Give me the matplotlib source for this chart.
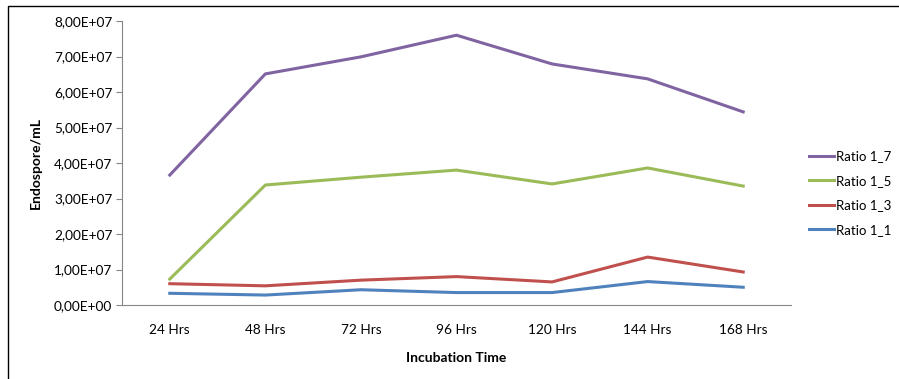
import matplotlib.pyplot as plt
from matplotlib.patches import Rectangle
from matplotlib.ticker import FuncFormatter

plt.rcParams['font.family'] = ['Lato', 'DejaVu Sans']

hours = ['24 Hrs', '48 Hrs', '72 Hrs', '96 Hrs', '120 Hrs', '144 Hrs', '168 Hrs']
ratio_1_7 = [3.66e7, 6.51e7, 6.99e7, 7.60e7, 6.79e7, 6.37e7, 5.44e7]
ratio_1_5 = [0.73e7, 3.38e7, 3.60e7, 3.80e7, 3.41e7, 3.86e7, 3.35e7]
ratio_1_3 = [0.60e7, 0.54e7, 0.70e7, 0.80e7, 0.65e7, 1.35e7, 0.93e7]
ratio_1_1 = [0.33e7, 0.28e7, 0.43e7, 0.35e7, 0.35e7, 0.66e7, 0.50e7]

fig = plt.figure(figsize=(8.99, 3.79), dpi=100)
ax = fig.add_axes([122 / 899, 1 - 305 / 379, (791 - 122) / 899, (305 - 21) / 379])

x = range(len(hours))
ax.plot(x, ratio_1_7, color='#8064a2', lw=2.2, label='Ratio 1_7')
ax.plot(x, ratio_1_5, color='#9bbb59', lw=2.2, label='Ratio 1_5')
ax.plot(x, ratio_1_3, color='#c0504d', lw=2.2, label='Ratio 1_3')
ax.plot(x, ratio_1_1, color='#4f81bd', lw=2.2, label='Ratio 1_1')

ax.set_xlim(-0.5, len(hours) - 0.5)
ax.set_ylim(0, 8e7)
ax.set_yticks([i * 1e7 for i in range(9)])
ax.yaxis.set_major_formatter(FuncFormatter(
    lambda v, p: ('%.2E' % v).replace('.', ',')))
ax.set_xticks(list(x))
ax.set_xticklabels(hours)
ax.tick_params(axis='x', length=0, pad=14, labelsize=9.8)
ax.tick_params(axis='y', length=4, color='#868686', labelsize=9.8, pad=3)

for s in ['top', 'right']:
    ax.spines[s].set_visible(False)
for s in ['left', 'bottom']:
    ax.spines[s].set_color('#868686')

ax.set_xlabel('Incubation Time', fontweight='bold', fontsize=10, labelpad=11)
ax.set_ylabel('Endospore/mL', fontweight='bold', fontsize=10, labelpad=9)

ax.legend(loc='center left', bbox_to_anchor=(806 / 899, 1 - 193 / 379),
          bbox_transform=fig.transFigure, frameon=False, fontsize=9.5,
          borderpad=0.2, borderaxespad=0, handlelength=1.9,
          handletextpad=0.2, labelspacing=0.95)

# outer chart border
fig.patches.append(Rectangle((8 / 899, -0.05), 1.0, 1 - 6 / 379 + 0.05,
                             transform=fig.transFigure, fill=False,
                             edgecolor='black', lw=1))

fig.savefig('out.png', dpi=100)
